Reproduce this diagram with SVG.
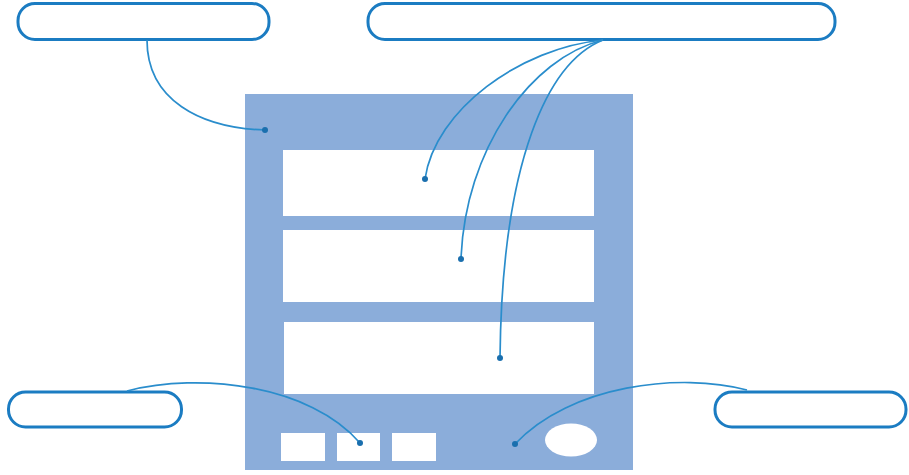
<svg xmlns="http://www.w3.org/2000/svg" width="909" height="475" viewBox="0 0 909 475">
<style>
.box{fill:#fff;stroke:#1b7cc2;stroke-width:3}
.panel{fill:#8badda}
.win{fill:#fff}
.con{fill:none;stroke:#2a8dcc;stroke-width:1.7}
.dot{fill:#1a6fae}
</style>
<rect width="909" height="475" fill="#fff"/>
<g id="device">
<rect class="panel" x="245" y="94" width="388" height="376"/>
<rect class="win" x="283" y="150" width="311" height="66"/>
<rect class="win" x="283" y="230" width="311" height="72"/>
<rect class="win" x="284" y="322" width="310" height="72"/>
<rect class="win" x="281" y="433" width="44" height="28"/>
<rect class="win" x="337" y="433" width="43" height="28"/>
<rect class="win" x="392" y="433" width="44" height="28"/>
<ellipse class="win" cx="571" cy="440" rx="26" ry="16.5"/>
</g>
<g id="label-top-left"><rect class="box" x="18" y="3.5" width="251" height="36" rx="17"/></g>
<g id="label-top-center"><rect class="box" x="368" y="3.5" width="467" height="36" rx="17"/></g>
<g id="label-bottom-left"><rect class="box" x="8.5" y="392" width="173" height="35" rx="17"/></g>
<g id="label-bottom-right"><rect class="box" x="715" y="392" width="191" height="35" rx="17"/></g>
<g id="connectors">
<path class="con" d="M147,40 C147,100 200,128 265,130"/>
<path class="con" d="M603,40 C520,48 435,110 425,179"/>
<path class="con" d="M603,40 C530,58 465,150 461,259"/>
<path class="con" d="M603,40 C548,62 502,160 500,358"/>
<path class="con" d="M127,391 C200,372 310,385 360,443"/>
<path class="con" d="M747,390 C680,372 570,385 515,444"/>
<circle class="dot" cx="265" cy="130" r="3"/>
<circle class="dot" cx="425" cy="179" r="3"/>
<circle class="dot" cx="461" cy="259" r="3"/>
<circle class="dot" cx="500" cy="358" r="3"/>
<circle class="dot" cx="360" cy="443" r="3"/>
<circle class="dot" cx="515" cy="444" r="3"/>
</g>
</svg>
